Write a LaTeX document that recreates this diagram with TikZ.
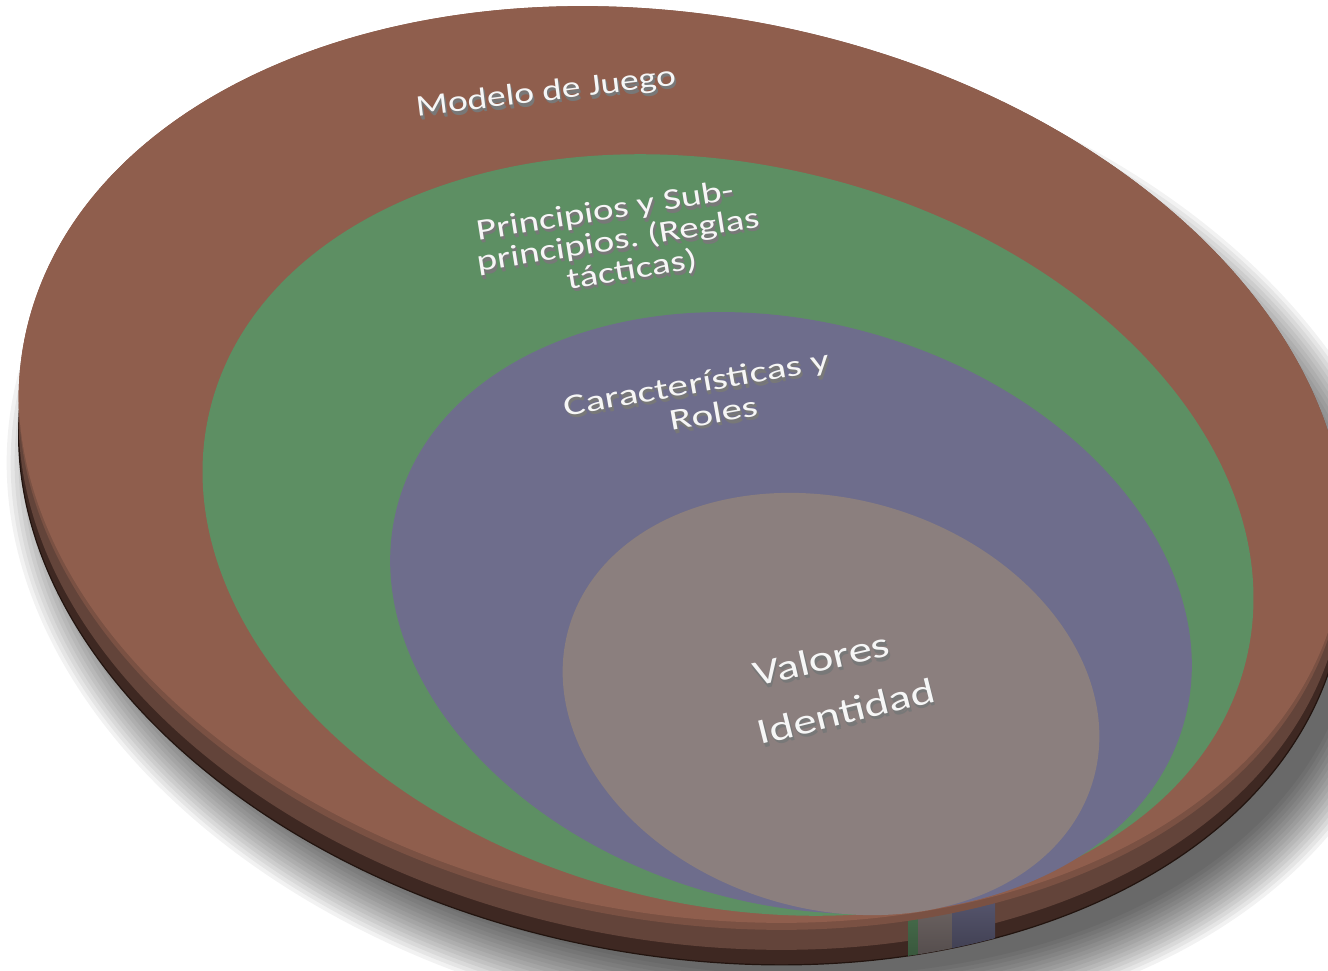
\documentclass[tikz,border=0pt]{standalone}
\usepackage{fontspec}
\setmainfont{Carlito}
\frenchspacing
\usetikzlibrary{calc}
\definecolor{outerbrown}{HTML}{8F5E4D}
\definecolor{bevelbrown}{HTML}{7A5143}
\definecolor{rimmid}{HTML}{63443A}
\definecolor{rimdark}{HTML}{3E2822}
\definecolor{rimline}{HTML}{22140F}
\definecolor{ringgreen}{HTML}{5D8F63}
\definecolor{ringslate}{HTML}{6E6D8C}
\definecolor{coretaupe}{HTML}{8B7F7E}
\definecolor{facewhite}{HTML}{F6F6F6}
\definecolor{sidegray}{HTML}{787878}

% face and extruded side of the raised labels
\tikzset{
  txtface/.style={text=facewhite, align=center, inner sep=0pt},
  txtside/.style={text=sidegray, align=center, inner sep=0pt},
}

% #1 name, #2 position, #3 angle, #4 horizontal stretch, #5 font size, #6 text
\newcommand\raisedlabel[6]{%
  \foreach \d in {3,2,1}{%
    \node[txtside, rotate=#3, xscale=#4, font=\fontsize{#5}{#5}\selectfont]
      (#1-side\d) at ($#2+(\d*0.6,\d*1.2)$) {#6};}
  \node[txtface, rotate=#3, xscale=#4, font=\fontsize{#5}{#5}\selectfont]
    (#1) at #2 {#6};}

% outline of the outer disc, centred on a given point
\newcommand\outerdisc[1]{#1 circle [x radius=670, y radius=452, rotate=-11]}

\begin{document}
\begin{tikzpicture}[x=1pt,y=-1pt]
\useasboundingbox (0,0) rectangle (1328,971);
\clip (0,0) rectangle (1328,971);
\fill[white] (0,0) rectangle (1328,971);

% soft drop shadow under the disc
\foreach \k in {0,...,15}{
  \pgfmathsetmacro\rx{712-4*\k}
  \pgfmathsetmacro\ry{494-4*\k}
  \fill[black, opacity=0.05] (712,532) circle [x radius=\rx, y radius=\ry, rotate=-11];
}

% thickness of the outer disc
\fill[rimdark] \outerdisc{(682,503)};
\draw[rimline, line width=1.2pt] \outerdisc{(682,503)};
\fill[rimmid] \outerdisc{(682,488)};

% inner rings showing through the rim
\begin{scope}
  \clip \outerdisc{(682,503)};
  \shade[top color=ringgreen!85!black, bottom color=ringgreen!55!black] (908,880) rectangle (918,975);
  \shade[top color=coretaupe!85!black, bottom color=coretaupe!55!black] (918,880) rectangle (952,975);
  \shade[top color=ringslate!85!black, bottom color=ringslate!50!black] (952,880) rectangle (995,975);
\end{scope}

% top face of the outer disc with a slight bevel along its lower edge
\fill[bevelbrown] \outerdisc{(682,468)};
\begin{scope}
  \clip \outerdisc{(682,468)};
  \fill[outerbrown] \outerdisc{(682,461)};
\end{scope}

% inner discs
\fill[ringgreen] (728,535) circle [x radius=533, y radius=370, rotate=-13.5];
\fill[ringslate] (791,613) circle [x radius=408, y radius=291, rotate=-15.5];
\fill[coretaupe] (831,704) circle [x radius=273, y radius=205, rotate=-16.2];

% labels
\raisedlabel{modelo}{(546,93)}{7}{1.25}{30}{Modelo de Juego}
\raisedlabel{principios1}{(605,212)}{9}{1.3}{30}{Principios y Sub-}
\raisedlabel{principios2}{(618,241)}{9}{1.3}{30}{principios. (Reglas}
\raisedlabel{principios3}{(632,270)}{9}{1.3}{30}{tácticas)}
\raisedlabel{caracteristicas}{(697,385)}{10}{1.37}{30}{Características y}
\raisedlabel{roles}{(714,413)}{10}{1.37}{30}{Roles}
\raisedlabel{valores}{(821,659)}{13}{1.3}{36}{Valores}
\raisedlabel{identidad}{(846,711)}{14}{1.3}{36}{Identidad}
\end{tikzpicture}
\end{document}
